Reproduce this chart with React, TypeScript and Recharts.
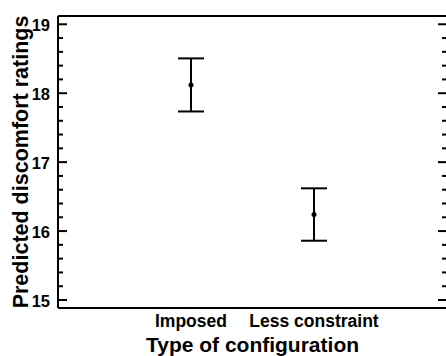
import { ScatterChart, Scatter, XAxis, YAxis, ErrorBar, Label } from "recharts";

const categories = ["Imposed", "Less constraint"];
const means = [18.12, 16.24];
const errors = [0.385, 0.38];
const yTicks = [
    15, 15.2, 15.4, 15.6, 15.8, 16, 16.2, 16.4, 16.6, 16.8, 17, 17.2, 17.4, 17.6, 17.8, 18, 18.2, 18.4,
    18.6, 18.8, 19,
];
const majorTicks = [15, 16, 17, 18, 19];

const data = categories.map((name, i) => ({ x: i + 1, name, mean: means[i], err: errors[i] }));

const FONT = "'Liberation Sans', Arial, Helvetica, sans-serif";
const yDomain = [14.884, 19.12];
const xDomain = [-0.081, 3.081];

function isMajor(v: number) {
    return majorTicks.some((m) => Math.abs(m - v) < 1e-6);
}

function LeftTick(props: any) {
    const { x, y, payload } = props;
    const major = isMajor(payload.value);
    return (
        <g>
            <line x1={x} x2={x + (major ? 9 : 5)} y1={y} y2={y} stroke="#000" strokeWidth={2} />
            {major && (
                <text
                    x={x - 8}
                    y={y}
                    dy="0.42em"
                    textAnchor="end"
                    fontFamily={FONT}
                    fontWeight="bold"
                    fontSize={16.5}
                    fill="#000"
                >
                    {payload.value}
                </text>
            )}
        </g>
    );
}

function RightTick(props: any) {
    const { x, y, payload } = props;
    const major = isMajor(payload.value);
    return <line x1={x} x2={x - (major ? 9 : 5)} y1={y} y2={y} stroke="#000" strokeWidth={2} />;
}

function BottomTick(props: any) {
    const { x, y, payload } = props;
    return (
        <text
            x={x}
            y={y}
            dy="0.71em"
            textAnchor="middle"
            fontFamily={FONT}
            fontWeight="bold"
            fontSize={17.5}
            fill="#000"
        >
            {categories[payload.value - 1]}
        </text>
    );
}

export default function App() {
    return (
        <div style={{ position: "absolute", left: 0, top: 0, background: "#fff" }}>
            <ScatterChart width={448} height={356} margin={{ top: 15, right: 0, bottom: 0, left: 0 }}>
                <XAxis
                    xAxisId="bottom"
                    dataKey="x"
                    type="number"
                    domain={xDomain}
                    allowDataOverflow
                    ticks={[1, 2]}
                    interval={0}
                    height={48}
                    tickSize={0}
                    tickMargin={7}
                    tickLine={false}
                    axisLine={{ stroke: "#000", strokeWidth: 2 }}
                    tick={<BottomTick />}
                >
                    <Label
                        value="Type of configuration"
                        position="insideBottom"
                        offset={4}
                        style={{ fontFamily: FONT, fontWeight: "bold", fontSize: 21, fill: "#000" }}
                    />
                </XAxis>
                <XAxis
                    xAxisId="top"
                    orientation="top"
                    type="number"
                    domain={xDomain}
                    allowDataOverflow
                    height={1}
                    tick={false}
                    tickLine={false}
                    axisLine={{ stroke: "#000", strokeWidth: 2 }}
                />
                <YAxis
                    yAxisId="left"
                    type="number"
                    domain={yDomain}
                    allowDataOverflow
                    ticks={yTicks}
                    interval={0}
                    width={58}
                    tickSize={0}
                    tickMargin={0}
                    tickLine={false}
                    axisLine={{ stroke: "#000", strokeWidth: 2 }}
                    tick={<LeftTick />}
                >
                    <Label
                        content={(p: any) => {
                            const vb = p.viewBox;
                            const cx = vb.x + 20;
                            const cy = vb.y + vb.height / 2;
                            return (
                                <text
                                    x={cx}
                                    y={cy}
                                    transform={`rotate(-90, ${cx}, ${cy})`}
                                    textAnchor="middle"
                                    dy="0.36em"
                                    fontFamily={FONT}
                                    fontWeight="bold"
                                    fontSize={21.5}
                                    fill="#000"
                                >
                                    Predicted discomfort ratings
                                </text>
                            );
                        }}
                    />
                </YAxis>
                <YAxis
                    yAxisId="right"
                    orientation="right"
                    type="number"
                    domain={yDomain}
                    allowDataOverflow
                    ticks={yTicks}
                    interval={0}
                    width={1}
                    tickSize={0}
                    tickMargin={0}
                    tickLine={false}
                    axisLine={{ stroke: "#000", strokeWidth: 2 }}
                    tick={<RightTick />}
                />
                <Scatter
                    data={data}
                    dataKey="mean"
                    xAxisId="bottom"
                    yAxisId="left"
                    isAnimationActive={false}
                    shape={(p: any) => <circle cx={p.cx} cy={p.cy} r={2.5} fill="#000" />}
                >
                    <ErrorBar
                        dataKey="err"
                        direction="y"
                        width={13}
                        stroke="#000"
                        strokeWidth={2}
                        isAnimationActive={false}
                    />
                </Scatter>
            </ScatterChart>
        </div>
    );
}
